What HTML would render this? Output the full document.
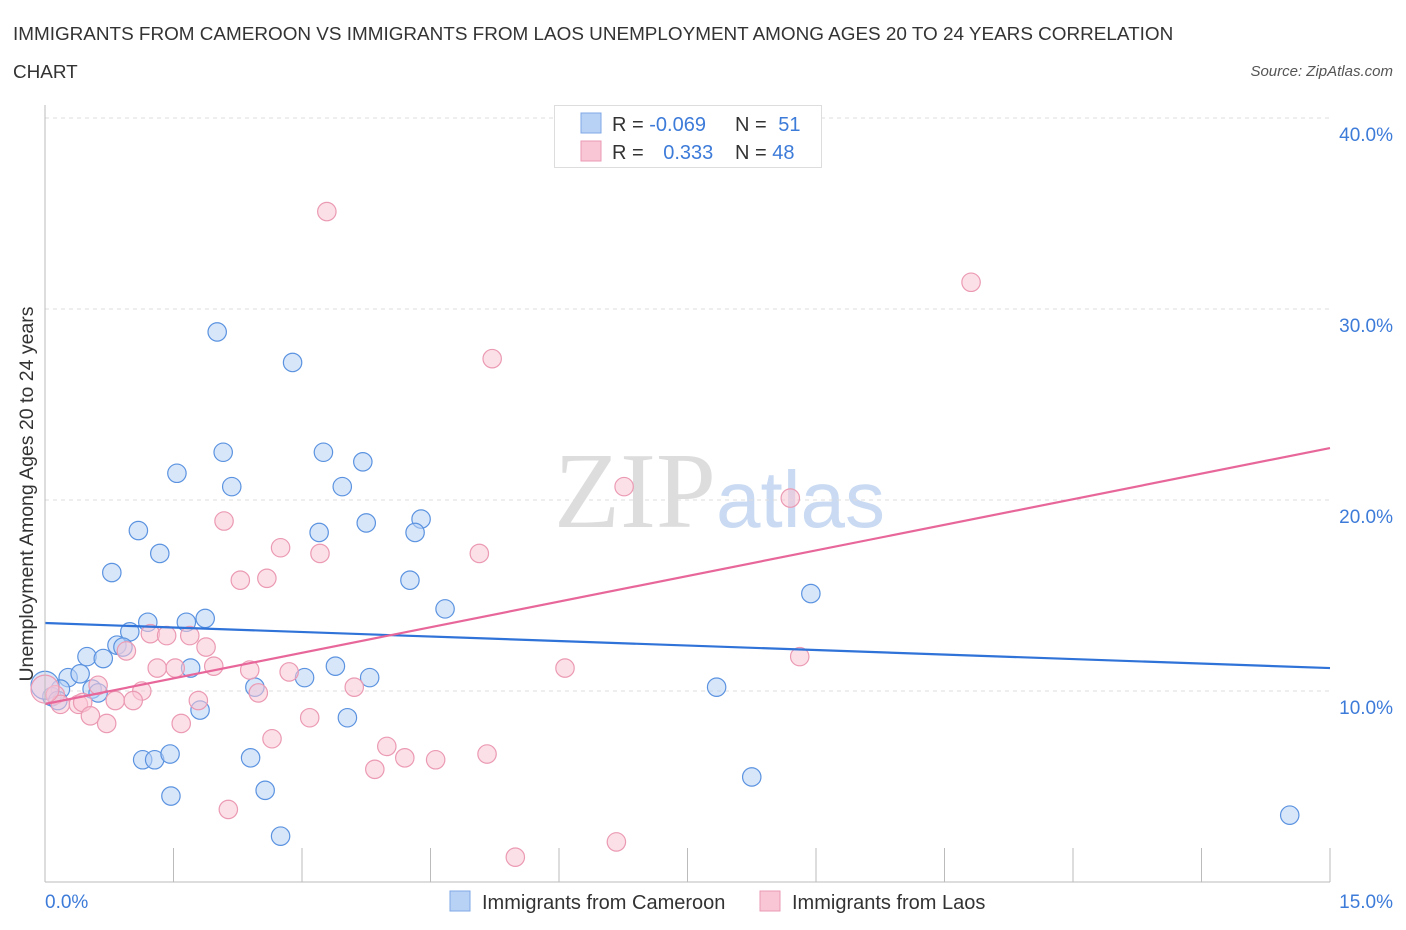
<!DOCTYPE html>
<html><head><meta charset="utf-8"><style>
body{margin:0;background:#fff;font-family:"Liberation Sans",sans-serif;}
svg{display:block}
</style></head><body>
<svg id="c" width="1406" height="930" xmlns="http://www.w3.org/2000/svg">
<text x="13" y="40" font-size="18.9" fill="#333">IMMIGRANTS FROM CAMEROON VS IMMIGRANTS FROM LAOS UNEMPLOYMENT AMONG AGES 20 TO 24 YEARS CORRELATION</text>
<text x="13" y="78" font-size="18.9" fill="#333">CHART</text>
<text x="1393" y="76" font-size="15" fill="#555" font-style="italic" text-anchor="end">Source: ZipAtlas.com</text>
<text x="716" y="527" font-size="108" fill="#ddd" text-anchor="end" font-family="Liberation Serif,serif">ZIP</text>
<text x="716" y="527" font-size="80" fill="#c9daf2">atlas</text>
<g id="grid"></g>
<g id="pts"></g>
<g id="lines"></g>
<line x1="45" y1="105" x2="45" y2="882" stroke="#bbb"/>
<line x1="45" y1="882" x2="1330" y2="882" stroke="#bbb"/>
<text transform="translate(33,494) rotate(-90)" font-size="19.5" fill="#333" text-anchor="middle">Unemployment Among Ages 20 to 24 years</text>
<text x="45" y="908" font-size="19" fill="#3d7bd9">0.0%</text>
<text x="1393" y="908" font-size="19" fill="#3d7bd9" text-anchor="end">15.0%</text>
<g>
<rect x="554.5" y="105.5" width="267" height="62" fill="#fff" stroke="#ddd"/>
<rect x="581" y="113" width="20" height="20" fill="#b8d2f5" stroke="#7fa8e6"/>
<rect x="581" y="141" width="20" height="20" fill="#f9c6d6" stroke="#eb9ab3"/>
<text x="612" y="131" font-size="20" fill="#333">R = <tspan fill="#3d7bd9">-0.069</tspan></text>
<text x="735" y="131" font-size="20" fill="#333">N = <tspan fill="#3d7bd9" dx="6">51</tspan></text>
<text x="612" y="159" font-size="20" fill="#333">R = <tspan fill="#3d7bd9" dx="14">0.333</tspan></text>
<text x="735" y="159" font-size="20" fill="#333">N = <tspan fill="#3d7bd9">48</tspan></text>
</g>
<g>
<rect x="450" y="891" width="20" height="20" fill="#b8d2f5" stroke="#7fa8e6"/>
<text x="482" y="909" font-size="20" fill="#333">Immigrants from Cameroon</text>
<rect x="760" y="891" width="20" height="20" fill="#f9c6d6" stroke="#eb9ab3"/>
<text x="792" y="909" font-size="20" fill="#333">Immigrants from Laos</text>
</g>
</svg>
<script>
const yTicks=[10,20,30,40];
const yTickLabels=["10.0%","20.0%","30.0%","40.0%"];
const xTicks=[0,1.5,3,4.5,6,7.5,9,10.5,12,13.5,15];
const blueX=[2.01,2.89,2.08,3.25,3.71,1.54,2.18,3.47,1.09,3.75,4.39,3.20,4.32,1.34,0.78,4.26,4.67,8.94,1.20,1.65,1.87,0.99,0.84,0.91,0.49,0.68,1.70,3.39,3.03,3.79,0.27,0.41,0.18,0.55,0.08,0,2.45,7.84,0.62,1.81,3.53,1.14,1.28,1.46,2.40,8.25,1.47,2.57,2.75,14.53,0.15];
const blueY=[28.8,27.2,22.5,22.5,22.0,21.4,20.7,20.7,18.4,18.8,19.0,18.3,18.3,17.2,16.2,15.8,14.3,15.1,13.6,13.6,13.8,13.1,12.4,12.3,11.8,11.7,11.2,11.3,10.7,10.7,10.7,10.9,10.1,10.1,9.7,10.3,10.2,10.2,9.9,9.0,8.6,6.4,6.4,6.7,6.5,5.5,4.5,4.8,2.4,3.5,9.5];
const pinkX=[3.29,10.81,5.22,6.76,8.70,2.09,2.75,3.21,5.07,2.28,2.59,1.23,1.42,1.69,0.95,1.88,1.31,1.52,1.97,2.39,2.85,6.07,8.81,1.13,2.49,3.61,0.62,0.12,0.18,0.39,0.44,0.82,1.03,1.79,0.53,0.72,1.59,3.09,2.65,3.99,4.20,4.56,5.16,3.85,2.14,6.67,5.49,0];
const pinkY=[35.1,31.4,27.4,20.7,20.1,18.9,17.5,17.2,17.2,15.8,15.9,13.0,12.9,12.9,12.1,12.3,11.2,11.2,11.3,11.1,11.0,11.2,11.8,10.0,9.9,10.2,10.3,9.8,9.3,9.3,9.4,9.5,9.5,9.5,8.7,8.3,8.3,8.6,7.5,7.1,6.5,6.4,6.7,5.9,3.8,2.1,1.3,10.1];
const blueTrend=[13.56,11.2];
const pinkTrend=[9.32,22.72];
const xMax=15;
const NS="http://www.w3.org/2000/svg";
function sx(v){return 45+v/xMax*1285;}
function sy(v){return 882-v*19.1;}
function mk(tag,attrs,parent){const e=document.createElementNS(NS,tag);for(const k in attrs)e.setAttribute(k,attrs[k]);parent.appendChild(e);return e;}
const grid=document.getElementById('grid');
yTicks.forEach((t,i)=>{
  const l=mk('line',{x1:45,x2:1330,y1:sy(t),y2:sy(t),stroke:'#ddd','stroke-dasharray':'4,4'},grid);
  
  
  const tx=mk('text',{x:1393,y:sy(t)+23,'font-size':19,fill:'#3d7bd9','text-anchor':'end'},grid);
  tx.textContent=yTickLabels[i];
  
  
});
xTicks.forEach(t=>{
  const l=mk('line',{x1:sx(t),x2:sx(t),y1:848,y2:882,stroke:'#bbb'},grid);
  
  
});
const pts=document.getElementById('pts');
function drawPts(X,Y,fill,stroke,name){
  X.forEach((x,i)=>{
    const big=x===0;
    const c=mk('circle',{cx:sx(x),cy:sy(Y[i]),r:big?14:9.2,fill:fill,'fill-opacity':big?0.5:0.55,stroke:stroke,'stroke-width':1.2},pts);
    
    
  });
}
drawPts(blueX,blueY,'#b8d2f5','#5b93e0','point-cameroon');
drawPts(pinkX,pinkY,'#f9c6d6','#eb9ab3','point-laos');
const lines=document.getElementById('lines');
const bl=mk('line',{x1:sx(0),x2:sx(xMax),y1:sy(blueTrend[0]),y2:sy(blueTrend[1]),stroke:'#2f72d8','stroke-width':2.2},lines);


const pl=mk('line',{x1:sx(0),x2:sx(xMax),y1:sy(pinkTrend[0]),y2:sy(pinkTrend[1]),stroke:'#e8679a','stroke-width':2.2},lines);


</script>
</body></html>
